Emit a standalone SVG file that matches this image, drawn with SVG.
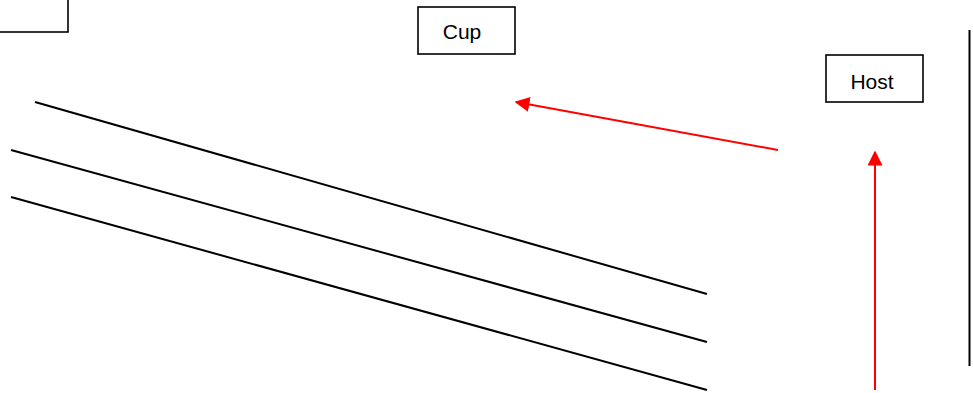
<svg xmlns="http://www.w3.org/2000/svg" width="973" height="393" viewBox="0 0 973 393">
<defs>
<style>
.box{fill:#fff;stroke:#000;stroke-width:1.6}
.lbl{font-family:"Liberation Sans",Arial,sans-serif;font-size:21px;fill:#000;text-anchor:middle}
.ln{stroke:#000;stroke-width:2;fill:none}
.red{stroke:#f00;stroke-width:2;fill:none}
</style>
<marker id="ah" viewBox="0 0 10 10" refX="9" refY="5" markerWidth="7.5" markerHeight="7.5" orient="auto" markerUnits="strokeWidth">
<path d="M0,0 L10,5 L0,10 Z" fill="#f00"/>
</marker>
</defs>
<rect width="973" height="393" fill="#fff"/>
<g id="node-topleft"><rect class="box" x="-5" y="-5" width="73" height="37"/></g>
<g id="node-cup"><rect class="box" x="418" y="7" width="97" height="47"/><text class="lbl" x="462" y="38.5">Cup</text></g>
<g id="node-host"><rect class="box" x="826" y="55" width="97" height="47"/><text class="lbl" x="872" y="88.5">Host</text></g>
<g id="connectors">
<line class="ln" x1="35" y1="102" x2="707" y2="294"/>
<line class="ln" x1="11" y1="150" x2="707" y2="342"/>
<line class="ln" x1="11" y1="197" x2="707" y2="390"/>
<line class="ln" x1="969.5" y1="30" x2="969.5" y2="366"/>
<line class="red" x1="778" y1="150" x2="516" y2="102" marker-end="url(#ah)"/>
<line class="red" x1="875" y1="390" x2="875" y2="152" marker-end="url(#ah)"/>
</g>
</svg>
